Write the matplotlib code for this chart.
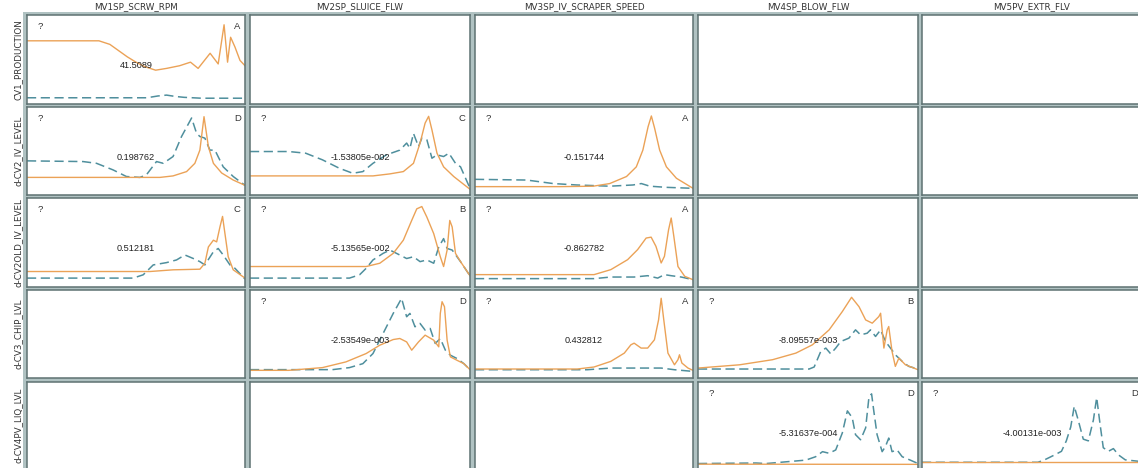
import matplotlib
matplotlib.use("Agg")
import matplotlib.pyplot as plt

# column / row names
col_names = ["MV1SP_SCRW_RPM", "MV2SP_SLUICE_FLW", "MV3SP_IV_SCRAPER_SPEED", "MV4SP_BLOW_FLW", "MV5PV_EXTR_FLV"]
row_names = ["CV1_PRODUCTION", "d-CV2_IV_LEVEL", "d-CV2OLD_IV_LEVEL", "d-CV3_CHIP_LVL", "d-CV4PV_LIQ_LVL"]

# curves, x = % of time axis, y = % of cell height
# row 1, col 1
r1c1_or_x = [0, 33, 38, 42, 46, 50, 54, 59, 64, 70, 75, 78.5, 84, 87.7, 90.4, 92, 93.4, 95.4, 97.7, 100]
r1c1_or_y = [71, 71, 67, 60, 53, 47, 42, 38, 40, 43, 47, 40, 57, 45, 89, 47, 75, 64, 49, 43]
r1c1_te_x = [0, 55, 60, 64, 68, 72, 80, 100]
r1c1_te_y = [7, 7, 9, 10, 8.5, 7.5, 6.5, 6.5]
# row 2
r2c1_or_x = [0, 61, 67, 73.2, 77, 79.3, 81.2, 83.2, 85.5, 89.3, 94.6, 100]
r2c1_or_y = [20, 20, 21.7, 26.6, 36, 51, 89, 55, 36, 25, 17, 11]
r2c1_te_x = [0, 25.7, 31.9, 39.5, 45.6, 51.8, 54.8, 59.4, 62.5, 67, 70.9, 75.5, 77.8, 79.3, 81.6, 83.9, 86.2, 90, 94.6, 100]
r2c1_te_y = [38.8, 38, 36, 28.5, 21, 20, 23, 38, 36, 43.7, 66.5, 87.5, 70, 66.5, 64.6, 51, 51, 32, 21, 11]
r2c2_or_x = [0, 55.9, 63.6, 69.7, 74.3, 77.3, 79.6, 81.2, 82.7, 85, 88, 92.6, 100]
r2c2_or_y = [21.7, 21.7, 24, 26.6, 36, 59, 81.7, 89.4, 74, 47.5, 32, 21, 6.5]
r2c2_te_x = [0, 17.6, 25.3, 32.9, 40.6, 46.7, 51.3, 55.9, 62, 68.1, 71.2, 72.7, 74.3, 76.6, 78.1, 80.4, 82.7, 85, 88, 90.4, 93.4, 95.7, 100]
r2c2_te_y = [49.4, 49.4, 47.5, 40, 30.4, 24.7, 26.6, 36, 45.6, 51, 59, 53, 70, 55, 64.6, 62.7, 41.8, 45.6, 43.7, 47.5, 36, 32, 7.6]
r2c3_or_x = [0, 39, 54.2, 61.8, 69.5, 74, 77, 79.4, 80.9, 82.4, 84.7, 87.8, 92.4, 100]
r2c3_or_y = [9.5, 9.5, 10, 13, 21, 32, 51, 77.6, 89.8, 75.8, 51, 32, 19, 7.6]
r2c3_te_x = [0, 23.7, 35.9, 46.6, 61.8, 72.5, 76.3, 80.2, 87.8, 100]
r2c3_te_y = [17.8, 17, 13, 11.4, 10, 11.4, 13, 10, 8.7, 7.6]
# row 3
r3c1_or_x = [0, 56.4, 67, 79.3, 81.6, 83.2, 85.5, 87, 88.5, 89.7, 90.8, 92.3, 94.6, 100]
r3c1_or_y = [17.4, 17.4, 19.3, 20, 26.7, 45, 52.6, 50.7, 67.4, 79.3, 60, 34, 19.3, 10]
r3c1_te_x = [0, 48.7, 53.3, 57.9, 64, 68.6, 72.4, 76.3, 79.3, 81.6, 85.5, 87.7, 90, 93.1, 95.4, 100]
r3c1_te_y = [10, 10, 13.7, 24.8, 27.4, 30.4, 36, 32, 28.5, 24.8, 39.6, 43.3, 36, 24.8, 21, 8.9]
r3c2_or_x = [0, 52.8, 59, 65.1, 69.7, 73.5, 75.8, 78.1, 80.4, 83.5, 86.5, 88, 89.6, 90.8, 91.9, 93.4, 95.7, 100]
r3c2_or_y = [23, 23, 26.7, 37.8, 52.6, 74.8, 87.8, 90.4, 78.5, 60, 34, 23, 41.5, 74.8, 67.4, 37.8, 28.5, 12.6]
r3c2_te_x = [0, 45.2, 49.8, 52.8, 55.9, 60.5, 63.6, 66.6, 71.2, 74.3, 77.3, 80.4, 83.5, 85.8, 88, 89.6, 91.9, 95.7, 100]
r3c2_te_y = [10, 10, 13.7, 21, 30.4, 37.8, 41.5, 37.8, 32, 34, 28.5, 30.4, 26.7, 45, 54.4, 43.3, 41.5, 28.5, 12.6]
r3c3_or_x = [0, 54.6, 62.3, 70, 74.6, 78.5, 80.8, 83, 85.4, 86.9, 88.8, 90, 91.2, 93.1, 96.2, 100]
r3c3_or_y = [13.9, 13.9, 19.5, 30.7, 42, 55, 56, 45.7, 27, 34.5, 64.4, 77.5, 57, 23, 12, 8.2]
r3c3_te_x = [0, 54.6, 62.3, 73, 79.2, 83.8, 86.9, 90, 94.6, 100]
r3c3_te_y = [9.4, 9.4, 11.2, 11.2, 12.7, 10, 13.9, 12.7, 11.2, 8.2]
# row 4
r4c2_or_x = [0, 17.6, 32.9, 43.6, 52.8, 59, 65.1, 68.1, 71.2, 73.5, 76.6, 79.6, 83.5, 85.8, 86.5, 87.3, 88.4, 89.6, 91.1, 94.2, 97.2, 100]
r4c2_or_y = [8.7, 8.7, 11.8, 18.3, 27.8, 37.3, 43.7, 44.9, 41, 31.6, 41, 48.7, 43, 35.4, 73.4, 86.7, 81, 43, 24, 20, 16.3, 9.5]
r4c2_te_x = [0, 37.5, 45.2, 51.3, 55.9, 60.5, 65.1, 68.9, 71.2, 72.7, 75, 77.3, 79.6, 81.9, 84.2, 86.5, 88.8, 91.1, 94.2, 97.2, 100]
r4c2_te_y = [9.5, 9.5, 11.8, 16.3, 27.8, 50.6, 73.4, 90.5, 69.6, 73.4, 58.2, 62, 54.4, 56.3, 39.2, 44.9, 31.6, 25.9, 22, 16.3, 9.5]
r4c3_or_x = [0, 46.9, 54.6, 62.3, 68.5, 71.5, 73, 76.2, 79.2, 82.3, 84.2, 85.4, 86.6, 88.5, 91.5, 93.1, 93.8, 94.9, 97.7, 100]
r4c3_or_y = [10.2, 10.2, 12.5, 18.9, 28.3, 37.7, 39.6, 34, 34, 43.4, 66, 90.6, 66, 28.3, 15, 20.8, 26.4, 17, 11.3, 8.7]
r4c3_te_x = [0, 51.5, 62.3, 85.4, 91.5, 100]
r4c3_te_y = [9.4, 9.4, 11.3, 11.3, 9.4, 7.5]
r4c4_or_x = [0, 18.9, 33.9, 44.5, 52, 59.6, 65.6, 69.8, 73.2, 76.2, 79.2, 82.2, 83, 83.7, 84.5, 86, 86.7, 88.2, 89.7, 91.3, 94.3, 100]
r4c4_or_y = [11.3, 15, 20.8, 28.3, 37.7, 54.7, 75.5, 91.7, 81, 66, 62.3, 69.8, 73.6, 54.7, 34, 54.7, 58.5, 30.2, 13.2, 22.6, 15, 9.4]
r4c4_te_x = [0, 50.5, 52.8, 55.8, 58.1, 60.3, 62.6, 64.9, 68.6, 71.6, 73.9, 76.9, 78.4, 80.7, 83, 85.2, 87.5, 89.7, 92.8, 95.8, 100]
r4c4_te_y = [10.2, 10.2, 12.5, 30.2, 34, 27.5, 34, 41.5, 45.3, 54.7, 49, 50.9, 54.7, 47.2, 54.7, 41.5, 34, 26.4, 18.9, 13.2, 10.2]
# row 5
r5c4_or_x = [0, 100]
r5c4_or_y = [8.7, 8.5]
r5c4_te_x = [0, 26.4, 30.9, 49, 53.5, 56.6, 59.6, 62.6, 65.6, 67.9, 70.1, 71.6, 73.9, 76.2, 77.7, 78.9, 79.9, 81.4, 83.7, 85.2, 86.7, 88.2, 90.5, 92.8, 96.5, 100]
r5c4_te_y = [9.4, 10, 9.4, 13.2, 17, 22.6, 20.8, 24.5, 43.4, 67.9, 60.4, 41.5, 35.8, 49, 83, 86.8, 67.9, 41.5, 22.6, 28.3, 37.7, 22.6, 24.5, 17, 13.2, 9.4]
r5c5_or_x = [0, 100]
r5c5_or_y = [10.8, 10.8]
r5c5_te_x = [0, 52.7, 55.7, 60.3, 63.4, 65.6, 67.6, 69.2, 71, 73.3, 75.6, 77.9, 79.4, 80.9, 82.4, 84.7, 87, 89.3, 92.4, 100]
r5c5_te_y = [10.8, 10.8, 13.5, 19, 23, 34.6, 50, 73, 57.7, 36.5, 34.6, 57.7, 82.7, 53.8, 27, 23, 26, 19, 13.5, 11.5]

# per-cell labels: (row, col, value text, class letter, orange, teal)
panels = [
    (0, 0, "41.5089", "A", (r1c1_or_x, r1c1_or_y), (r1c1_te_x, r1c1_te_y)),
    (1, 0, "0.198762", "D", (r2c1_or_x, r2c1_or_y), (r2c1_te_x, r2c1_te_y)),
    (1, 1, "-1.53805e-002", "C", (r2c2_or_x, r2c2_or_y), (r2c2_te_x, r2c2_te_y)),
    (1, 2, "-0.151744", "A", (r2c3_or_x, r2c3_or_y), (r2c3_te_x, r2c3_te_y)),
    (2, 0, "0.512181", "C", (r3c1_or_x, r3c1_or_y), (r3c1_te_x, r3c1_te_y)),
    (2, 1, "-5.13565e-002", "B", (r3c2_or_x, r3c2_or_y), (r3c2_te_x, r3c2_te_y)),
    (2, 2, "-0.862782", "A", (r3c3_or_x, r3c3_or_y), (r3c3_te_x, r3c3_te_y)),
    (3, 1, "-2.53549e-003", "D", (r4c2_or_x, r4c2_or_y), (r4c2_te_x, r4c2_te_y)),
    (3, 2, "0.432812", "A", (r4c3_or_x, r4c3_or_y), (r4c3_te_x, r4c3_te_y)),
    (3, 3, "-8.09557e-003", "B", (r4c4_or_x, r4c4_or_y), (r4c4_te_x, r4c4_te_y)),
    (4, 3, "-5.31637e-004", "D", (r5c4_or_x, r5c4_or_y), (r5c4_te_x, r5c4_te_y)),
    (4, 4, "-4.00131e-003", "D", (r5c5_or_x, r5c5_or_y), (r5c5_te_x, r5c5_te_y)),
]

W, H = 1138, 468
col_px = [(27, 245), (250, 470), (475, 693), (698, 918), (922, 1142)]
row_px = [(15, 104), (107, 195), (198, 287), (290, 378), (382, 472)]

orange = "#eba257"
teal = "#4f8f9d"
edge = "#5e7272"

fig = plt.figure(figsize=(W / 100, H / 100), dpi=100)
fig.patch.set_facecolor("white")

# grey band behind the grid
bg = fig.add_axes([23 / W, 0, 1 - 23 / W, 1 - 12 / H], zorder=-10)
bg.set_facecolor("#b0c2c2")
bg.set_xticks([])
bg.set_yticks([])
for s in bg.spines.values():
    s.set_visible(False)

axes = {}
for r, (y0, y1) in enumerate(row_px):
    for c, (x0, x1) in enumerate(col_px):
        ax = fig.add_axes([x0 / W, 1 - y1 / H, (x1 - x0) / W, (y1 - y0) / H])
        ax.set_facecolor("white")
        ax.set_xlim(0, 100)
        ax.set_ylim(0, 100)
        ax.set_xticks([])
        ax.set_yticks([])
        for s in ax.spines.values():
            s.set_color(edge)
            s.set_linewidth(1.1)
        axes[(r, c)] = ax

for c, (x0, x1) in enumerate(col_px):
    fig.text((x0 + x1) / 2 / W, 1 - 6.5 / H, col_names[c], ha="center", va="center", fontsize=6.3, color="#333333")

for r, (y0, y1) in enumerate(row_px):
    yc = (y0 + min(y1, H)) / 2
    fig.text(18 / W, 1 - yc / H, row_names[r], ha="center", va="center", rotation=90,
             fontsize=6.3, color="#333333")

for r, c, val, cls, (ox, oy), (tx, ty) in panels:
    ax = axes[(r, c)]
    ax.plot(tx, ty, color=teal, lw=1.1, dashes=(6, 3))
    ax.plot(ox, oy, color=orange, lw=1.0)
    ax.text(0.06, 0.87, "?", transform=ax.transAxes, ha="center", va="center", fontsize=6.8,
            family="Liberation Sans", color="#333333")
    ax.text(0.965, 0.87, cls, transform=ax.transAxes, ha="center", va="center", fontsize=6.8,
            family="Liberation Sans", color="#333333")
    ax.text(0.5, 0.43, val, transform=ax.transAxes, ha="center", va="center", fontsize=6.6,
            family="Liberation Sans", color="#222222")

fig.savefig("out.png", dpi=100)
